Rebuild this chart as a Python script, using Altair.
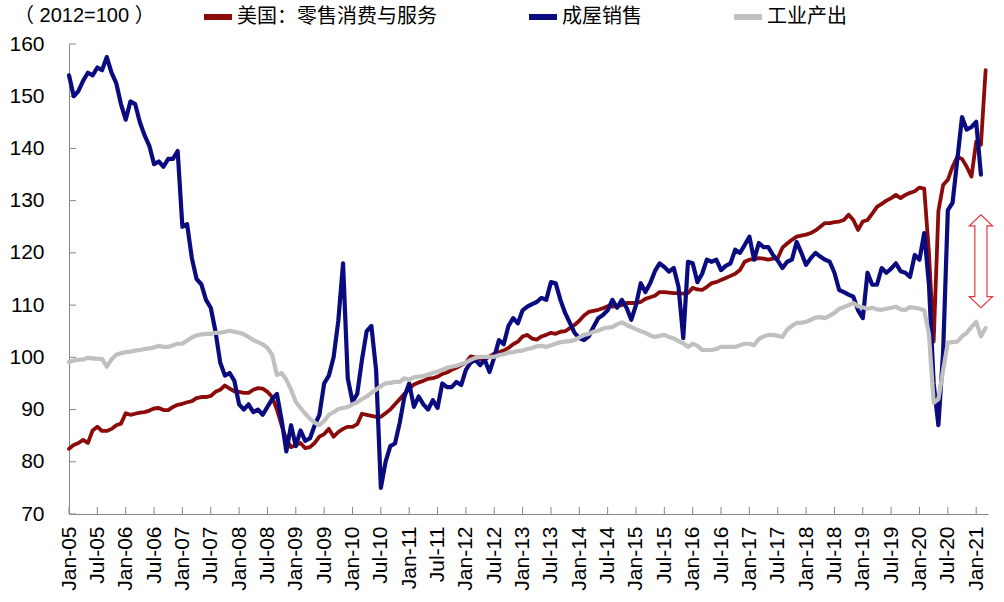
import altair as alt
import pandas as pd

# ---------------- data ----------------
tick_labels = ["Jan-05", "Jul-05", "Jan-06", "Jul-06", "Jan-07", "Jul-07", "Jan-08", "Jul-08",
               "Jan-09", "Jul-09", "Jan-10", "Jul-10", "Jan-11", "Jul-11", "Jan-12", "Jul-12",
               "Jan-13", "Jul-13", "Jan-14", "Jul-14", "Jan-15", "Jul-15", "Jan-16", "Jul-16",
               "Jan-17", "Jul-17", "Jan-18", "Jul-18", "Jan-19", "Jul-19", "Jan-20", "Jul-20",
               "Jan-21"]
y_ticks = [70, 80, 90, 100, 110, 120, 130, 140, 150, 160]
series_names = ["美国：零售消费与服务", "成屋销售", "工业产出"]
series_colors = ["#8B0A0A", "#0B0B80", "#C0C0C0"]
unit_label = "（ 2012=100 ）"

# monthly values, Jan-05 onward
retail = [82.5, 83.2, 83.6, 84.2, 83.6, 86, 86.7, 85.9, 85.9, 86.3,
          87, 87.3, 89.3, 89, 89.2, 89.4, 89.5, 89.8, 90.2, 90.3,
          89.9, 89.9, 90.5, 90.9, 91.1, 91.4, 91.6, 92.2, 92.4, 92.4,
          92.6, 93.4, 93.8, 94.6, 94, 93.5, 93.4, 93.2, 93.2, 93.8,
          94.1, 94, 93.4, 92.4, 90, 87, 84.2, 82.8, 83.2, 83.6,
          82.6, 82.8, 83.6, 84.8, 85.3, 86.3, 84.8, 85.7, 86.3, 86.7,
          86.7, 87.2, 89.2, 89, 88.8, 88.6, 88.6, 89.3, 90, 91,
          92, 93, 94, 94.8, 95.2, 95.5, 95.9, 96, 96.3, 96.8,
          97.1, 97.6, 98, 98.5, 99, 100.2, 100, 99.6, 99.5, 100.2,
          100.7, 101, 101.3, 101.8, 102.5, 103, 104, 104.3, 103.6, 103.4,
          104, 104.3, 104.7, 104.5, 104.9, 105, 105.6, 106.2, 107, 108,
          108.7, 108.9, 109.1, 109.4, 109.8, 109.7, 109.8, 110, 110.4, 110.4,
          110.4, 110.6, 111.2, 111.5, 111.8, 112.5, 112.5, 112.4, 112.3, 112.3,
          112.2, 112.3, 113.3, 113, 112.9, 113.5, 114.2, 114.4, 114.8, 115.2,
          115.6, 116, 116.7, 118.3, 118.7, 118.8, 119, 118.9, 118.7, 118.9,
          119, 121, 121.8, 122.5, 123.1, 123.3, 123.5, 123.8, 124.3, 125,
          125.7, 125.7, 125.9, 126, 126.3, 127.3, 126.3, 124.4, 126, 126.3,
          127.5, 128.8, 129.4, 130, 130.5, 131.1, 130.5, 131.1, 131.5, 131.8,
          132.5, 132.3, 120, 103, 128, 133, 134, 136.5, 138.4, 138,
          136.5, 134.6, 141.3, 140.7, 155]

home_sales = [154, 150, 151, 153, 154.5, 154, 155.5, 155, 157.5, 154.5,
              152.5, 148.5, 145.5, 149, 148.5, 145, 142.5, 140.5, 137, 137.5,
              136.5, 138, 138, 139.5, 125, 125.5, 119, 115, 114, 111,
              109.5, 105, 99, 96.5, 97, 95.5, 91, 90, 91, 89.5,
              90, 89, 90.5, 92, 93, 88, 82, 87, 83, 86,
              84, 84.5, 87, 89, 95, 96.5, 100, 107, 118, 96,
              91.5, 93, 99.5, 105, 106, 97.5, 75, 80, 83, 83.5,
              87.5, 92.5, 95, 90.5, 92.5, 91, 90, 91.8, 90.3, 95,
              94.3, 94.3, 95.3, 94.7, 97.6, 99, 99.5, 98.5, 99.5, 97.2,
              100, 103.3, 102.5, 106, 107.5, 106.5, 109, 109.7, 110.2, 110.6,
              111.4, 111, 114.4, 114.2, 111, 108.5, 106.6, 104.7, 103.7, 103.3,
              104, 105.8, 107.5, 108.1, 109, 111, 109.5, 111, 109.5, 107.2,
              110, 114.2, 112.5, 114.2, 116.5, 118, 117.3, 116.4, 117.1, 113.5,
              103.7, 118.3, 118, 114.4, 116, 118.7, 118.3, 118.7, 116.7, 117.5,
              118, 120.6, 120, 121.5, 123.1, 118.7, 121.9, 121.1, 121.1, 119.6,
              118.5, 117.1, 118.3, 118.7, 122.1, 120, 117.7, 119, 120, 119.3,
              118.7, 118.3, 116.2, 112.9, 112.5, 112, 111.6, 109, 107.5, 116.2,
              113.9, 113.9, 117.1, 116.2, 117, 118, 116.5, 116.2, 115.4, 119.6,
              118.7, 123.8, 114, 95, 87, 101, 128.2, 129.6, 137.8, 146,
              143.6, 144.1, 145.1, 135]

ind_prod = [99.1, 99.4, 99.5, 99.6, 99.9, 99.8, 99.7, 99.7, 98.2, 99.6,
            100.5, 100.8, 101, 101.1, 101.3, 101.4, 101.6, 101.7, 101.9, 102.2,
            102, 102, 102.3, 102.6, 102.6, 103.2, 103.8, 104.2, 104.4, 104.5,
            104.5, 104.7, 104.7, 104.9, 105.1, 104.9, 104.7, 104.4, 103.9, 103.3,
            102.9, 102.5, 101.8, 100.5, 96.6, 97, 95.7, 93.8, 91.5, 90.3,
            89.2, 88.2, 87.5, 87, 87.8, 89, 89.5, 90.1, 90.3, 90.5,
            91, 91.4, 92, 92.5, 93.2, 93.8, 94.5, 95, 95.1, 95.3,
            95.3, 96, 95.7, 96.2, 96.3, 96.4, 96.7, 97, 97.3, 97.6,
            98, 98.2, 98.4, 98.7, 99, 99.5, 99.9, 100.1, 100.1, 100.1,
            100.1, 100.4, 100.6, 100.9, 101, 101.2, 101.3, 101.6, 101.8, 102.1,
            102.2, 102, 102.3, 102.6, 102.9, 103, 103.1, 103.3, 103.8, 104.3,
            104.5, 104.9, 105.1, 105.5, 105.7, 105.8, 106.3, 106.7, 106.2, 105.8,
            105.4, 105, 104.7, 104.2, 103.9, 104.1, 104.3, 103.9, 103.6, 103.1,
            102.7, 102, 102.6, 102.2, 101.4, 101.4, 101.4, 101.6, 102, 102,
            102, 102, 102.3, 102.6, 102.6, 102.3, 103.5, 104, 104.3, 104.3,
            104.1, 103.9, 105.3, 106, 106.6, 106.6, 106.8, 107.2, 107.6, 107.7,
            107.5, 108, 108.5, 109.3, 109.6, 110, 110.4, 109.8, 109.6, 109.3,
            109.5, 109.2, 109.1, 109.3, 109.5, 109.7, 109.2, 109.1, 109.6, 109.5,
            109.3, 109, 104.5, 91.3, 92, 97.5, 102.8, 102.9, 103, 104,
            104.7, 105.8, 106.8, 104, 105.6]

# annotation: double arrow (month index, value)
arrow_m = [193.0]
arrow_v = [118.4]

# ---------------- build tables ----------------
rows = []
for name, vals in zip(series_names, [retail, home_sales, ind_prod]):
    for i, v in enumerate(vals):
        rows.append({"m": i, "v": v, "s": name})
df = pd.DataFrame(rows)

xtick_df = pd.DataFrame({"m": [6 * k for k in range(len(tick_labels))]})
ytick_df = pd.DataFrame({"v": y_ticks})
arrow_df = pd.DataFrame({"m": arrow_m, "v": arrow_v})
unit_df = pd.DataFrame({"t": [unit_label]})

W, H = 919, 470
AXIS_COLOR = "#868686"
label_expr = "[" + ",".join("'%s'" % t for t in tick_labels) + "][round(datum.value/6)]"

X = alt.X("m:Q",
          scale=alt.Scale(domain=[0, 194.5], nice=False, zero=False),
          axis=alt.Axis(values=xtick_df["m"].tolist(), labelExpr=label_expr, title=None,
                        grid=False, ticks=False, labelAngle=270, labelFont="Liberation Sans",
                        labelFontSize=21, labelColor="#000000", labelPadding=12,
                        domainColor=AXIS_COLOR, labelOverlap=False))
Y = alt.Y("v:Q",
          scale=alt.Scale(domain=[70, 160], nice=False, zero=False),
          axis=alt.Axis(values=y_ticks, title=None, grid=False, ticks=False,
                        labelFont="Liberation Sans", labelFontSize=21, labelColor="#000000",
                        labelPadding=25, domainColor=AXIS_COLOR))

color = alt.Color("s:N",
                  scale=alt.Scale(domain=series_names, range=series_colors),
                  legend=alt.Legend(title=None, orient="none", legendX=132, legendY=-44,
                                    direction="horizontal", symbolType="stroke",
                                    symbolSize=784, symbolStrokeWidth=6,
                                    labelFont="Noto Sans CJK SC", labelFontSize=20,
                                    labelLimit=0,
                                    labelColor="#000000", columnPadding=80, labelOffset=2))

widths = [3.8, 4.2, 4.2]
layers = []
for name, sw in zip(series_names, widths):
    layers.append(
        alt.Chart(df).transform_filter(alt.datum.s == name)
        .mark_line(strokeWidth=sw, strokeJoin="round", strokeCap="round")
        .encode(x=X, y=Y, color=color)
    )

xticks = alt.Chart(xtick_df).mark_rule(color=AXIS_COLOR, strokeWidth=1).encode(
    x=X, y=alt.value(H - 7), y2=alt.value(H))
yticks = alt.Chart(ytick_df).mark_rule(color=AXIS_COLOR, strokeWidth=1).encode(
    y=Y, x=alt.value(0), x2=alt.value(7))

ARROW = ("M0,-1 L0.25,-0.76 L0.13,-0.76 L0.13,0.76 L0.25,0.76 L0,1 "
         "L-0.25,0.76 L-0.13,0.76 L-0.13,-0.76 L-0.25,-0.76 Z")
arrow = alt.Chart(arrow_df).mark_point(
    shape=ARROW, size=93 * 93, fill="white", fillOpacity=1, stroke="#E0383C",
    strokeWidth=1.2, opacity=1, filled=False).encode(x=X, y=Y)

unit = alt.Chart(unit_df).mark_text(
    align="left", baseline="middle", font="Liberation Sans, Noto Sans CJK SC",
    fontSize=20, color="#000000").encode(
    x=alt.value(-55), y=alt.value(-28), text="t:N")

chart = alt.layer(xticks, yticks, *layers, arrow, unit).properties(
    width=W, height=H,
    autosize=alt.AutoSizeParams(type="none"),
    padding={"left": 69, "top": 44, "right": 16, "bottom": 88},
    background="white",
).configure_view(stroke=None)

chart.save("out.html", embed_options={"renderer": "svg", "actions": False})
